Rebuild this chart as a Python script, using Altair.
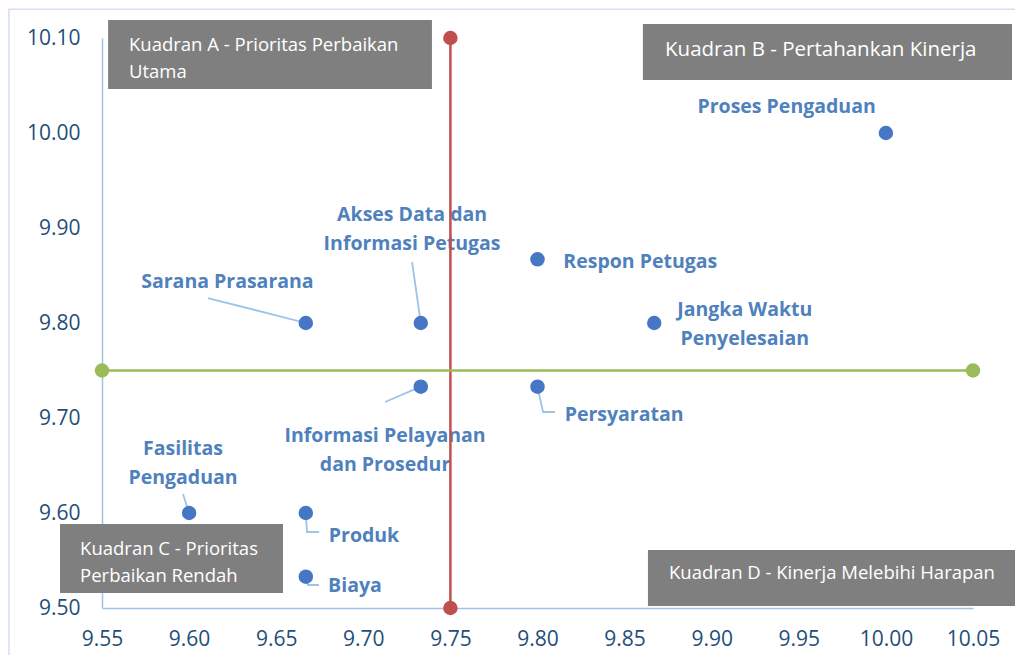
import altair as alt
import pandas as pd

# ---------------- data ----------------
attributes = [
    "Proses Pengaduan", "Respon Petugas", "Jangka Waktu Penyelesaian",
    "Sarana Prasarana", "Akses Data dan Informasi Petugas",
    "Informasi Pelayanan dan Prosedur", "Persyaratan",
    "Fasilitas Pengaduan", "Produk", "Biaya",
]
kinerja = [10.00, 9.80, 9.867, 9.667, 9.733, 9.733, 9.80, 9.60, 9.667, 9.667]
harapan = [10.00, 9.867, 9.80, 9.80, 9.80, 9.733, 9.733, 9.60, 9.60, 9.533]

label_text = [
    "Proses Pengaduan", "Respon Petugas", "Jangka Waktu\nPenyelesaian",
    "Sarana Prasarana", "Akses Data dan\nInformasi Petugas",
    "Informasi Pelayanan\ndan Prosedur", "Persyaratan",
    "Fasilitas\nPengaduan", "Produk", "Biaya",
]
# anchor of the first line of each label
label_x = [9.943, 9.859, 9.919, 9.622, 9.728, 9.7125, 9.8497, 9.5965, 9.7004, 9.6952]
label_y = [10.027, 9.864, 9.8137, 9.843, 9.9137, 9.681, 9.703, 9.6674, 9.576, 9.523]

# leader lines (label -> point), data units
leader_id = ["sar", "sar", "aks", "aks", "inf", "inf", "per", "per", "per",
             "fas", "fas", "pro", "pro", "pro", "bia", "bia", "bia"]
leader_x = [9.6108, 9.667, 9.728, 9.733, 9.7125, 9.733, 9.80, 9.8032, 9.81,
            9.5965, 9.60, 9.667, 9.6677, 9.6746, 9.667, 9.6683, 9.6746]
leader_y = [9.8263, 9.80, 9.8642, 9.80, 9.7168, 9.733, 9.733, 9.7063, 9.7063,
            9.62, 9.60, 9.60, 9.58, 9.58, 9.533, 9.5242, 9.5242]

# mean lines
mean_kinerja = 9.75
mean_harapan = 9.75
x_ticks = [9.55, 9.60, 9.65, 9.70, 9.75, 9.80, 9.85, 9.90, 9.95, 10.00, 10.05]
y_ticks = [9.50, 9.60, 9.70, 9.80, 9.90, 10.00, 10.10]

# quadrant boxes
box_text = ["Kuadran A - Prioritas Perbaikan\nUtama", "Kuadran B - Pertahankan Kinerja",
            "Kuadran C - Prioritas\nPerbaikan Rendah", "Kuadran D - Kinerja Melebihi Harapan"]
box_x1 = [9.5535, 9.8605, 9.5259, 9.8634]
box_x2 = [9.7394, 10.0724, 9.6539, 10.077]
box_y1 = [10.119, 10.1147, 9.5884, 9.561]
box_y2 = [10.0463, 10.0558, 9.5158, 9.5021]
box_tx = [9.5655, 9.8732, 9.5374, 9.8755]
box_ty = [10.0926, 10.0874, 9.5621, 9.5368]
box_fs = [18.5, 20.5, 18.5, 18.5]

# chart-area border (top and left edges)
frame_id = ["f", "f", "f"]
frame_x = [9.4966, 9.4966, 10.2]
frame_y = [9.30, 10.1303, 10.1303]

# ---------------- tables ----------------
pts = pd.DataFrame({"attr": attributes, "x": kinerja, "y": harapan})
lbl = pd.DataFrame({"t": label_text, "x": label_x, "y": label_y})
lead = pd.DataFrame({"id": leader_id, "x": leader_x, "y": leader_y,
                     "o": list(range(len(leader_id)))})
red = pd.DataFrame({"x": [mean_kinerja, mean_kinerja], "y": [y_ticks[0], y_ticks[-1]]})
green = pd.DataFrame({"x": [x_ticks[0], x_ticks[-1]], "y": [mean_harapan, mean_harapan]})
boxes = pd.DataFrame({"t": box_text, "x": box_x1, "x2": box_x2, "y": box_y1, "y2": box_y2,
                      "tx": box_tx, "ty": box_ty, "fs": box_fs})
frame_df = pd.DataFrame({"id": frame_id, "x": frame_x, "y": frame_y, "o": [0, 1, 2]})

FONT = "Open Sans"
W, H = 871, 570
xs = alt.Scale(domain=[x_ticks[0], x_ticks[-1]], nice=False, zero=False)
ys = alt.Scale(domain=[y_ticks[0], y_ticks[-1]], nice=False, zero=False)
xaxis = alt.Axis(values=x_ticks, format=".2f", title=None, grid=False, ticks=False,
                 domainColor="#9DC3E6", domainWidth=1.5, labelColor="#1F4E79",
                 labelFont=FONT, labelFontSize=21, labelPadding=20, labelFlush=False)
yaxis = alt.Axis(values=y_ticks, format=".2f", title=None, grid=False, ticks=False,
                 domainColor="#9DC3E6", domainWidth=1.5, labelColor="#1F4E79",
                 labelFont=FONT, labelFontSize=21, labelPadding=22, labelFlush=False)


def X(f="x"):
    return alt.X(f, type="quantitative", scale=xs, axis=xaxis)


def Y(f="y"):
    return alt.Y(f, type="quantitative", scale=ys, axis=yaxis)


frame = alt.Chart(frame_df).mark_line(color="#D5E1F1", strokeWidth=1.6, clip=False).encode(
    x=X(), y=Y(), detail="id:N", order="o:Q")

leaders = alt.Chart(lead).mark_line(color="#9DC3E6", strokeWidth=1.8).encode(
    x=X(), y=Y(), detail="id:N", order="o:Q")

labels = alt.Chart(lbl).mark_text(
    font=FONT, fontSize=19.5, fontWeight="bold", color="#4F81BD",
    align="center", baseline="middle", lineBreak="\n", lineHeight=29
).encode(x=X(), y=Y(), text="t:N")

points = alt.Chart(pts).mark_circle(size=210, color="#4677C5", opacity=1).encode(
    x=X(), y=Y(), tooltip=["attr:N"])

red_line = alt.Chart(red).mark_line(color="#C0504D", strokeWidth=2.5).encode(x=X(), y=Y())
red_pts = alt.Chart(red).mark_circle(size=210, color="#C0504D", opacity=1).encode(x=X(), y=Y())
green_line = alt.Chart(green).mark_line(color="#9BBB59", strokeWidth=2.5).encode(x=X(), y=Y())
green_pts = alt.Chart(green).mark_circle(size=210, color="#9BBB59", opacity=1).encode(x=X(), y=Y())

box_rects = alt.Chart(boxes).mark_rect(color="#7F7F7F").encode(
    x=X("x"), x2="x2", y=Y("y"), y2="y2")
box_labels = alt.Chart(boxes).mark_text(
    font=FONT, color="white", align="left", baseline="middle",
    lineBreak="\n", lineHeight=27
).encode(x=X("tx"), y=Y("ty"), text="t:N", size=alt.Size("fs:Q", scale=None))

chart = alt.layer(
    frame, leaders, labels, points, red_line, red_pts,
    green_line, green_pts, box_rects, box_labels
).properties(
    width=W, height=H, background="white",
    autosize=alt.AutoSizeParams(type="none"),
    padding={"left": 94, "top": 30, "right": 42, "bottom": 47},
).configure_view(stroke="transparent", strokeWidth=0)

chart.save("out.html", embed_options={"renderer": "svg", "actions": False})
